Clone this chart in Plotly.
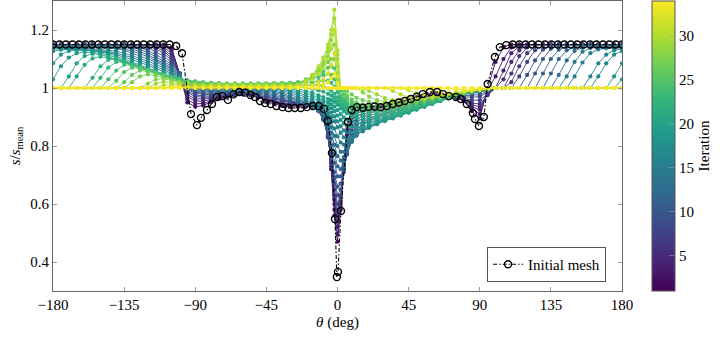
import plotly.graph_objects as go
from plotly.colors import sample_colorscale

# ---------------- data ----------------
THETA = [-180, -175, -170, -165, -160, -155, -150, -145, -140, -135, -130, -125, -120, -115, -110, -105,
         -100, -95, -90, -85, -80, -75, -70, -65, -60, -55, -50, -45, -40, -35, -30, -25,
         -20, -16, -12, -9, -6, -4, -2, 0, 2, 4, 6, 9, 12, 16, 20,
         25, 30, 35, 40, 45, 50, 55, 60, 65, 70, 75, 80, 85, 90, 95,
         100, 105, 110, 115, 120, 125, 130, 135, 140, 145, 150, 155, 160, 165, 170, 175, 180]

S_IT02 = [1.15, 1.15, 1.15, 1.15, 1.15, 1.15, 1.15, 1.15, 1.15, 1.15, 1.15, 1.15, 1.15, 1.15, 1.15, 1.14,
          1.05, 0.95, 0.935, 0.94, 0.95, 0.962, 0.968, 0.975, 0.98, 0.977, 0.968, 0.955, 0.945, 0.938, 0.935, 0.935,
          0.935, 0.938, 0.937, 0.93, 0.85, 0.72, 0.56, 0.47, 0.58, 0.75, 0.87, 0.915, 0.93, 0.932, 0.935,
          0.938, 0.942, 0.947, 0.952, 0.958, 0.968, 0.977, 0.983, 0.982, 0.975, 0.968, 0.955, 0.92, 0.895, 1.0,
          1.09, 1.14, 1.15, 1.15, 1.15, 1.15, 1.15, 1.15, 1.15, 1.15, 1.15, 1.15, 1.15, 1.15, 1.15, 1.15, 1.15]
S_IT03 = [1.15, 1.15, 1.15, 1.15, 1.15, 1.15, 1.15, 1.15, 1.15, 1.15, 1.15, 1.15, 1.15, 1.15, 1.148, 1.135,
          1.05, 0.96, 0.945, 0.947, 0.955, 0.965, 0.97, 0.975, 0.979, 0.976, 0.968, 0.957, 0.948, 0.942, 0.939, 0.938,
          0.938, 0.94, 0.938, 0.925, 0.845, 0.73, 0.58, 0.495, 0.59, 0.745, 0.855, 0.908, 0.925, 0.931, 0.935,
          0.939, 0.943, 0.947, 0.952, 0.958, 0.967, 0.975, 0.98, 0.98, 0.974, 0.967, 0.956, 0.928, 0.91, 0.993,
          1.04, 1.1, 1.14, 1.15, 1.15, 1.15, 1.15, 1.15, 1.15, 1.15, 1.15, 1.15, 1.15, 1.15, 1.15, 1.15, 1.15]
S_IT04 = [1.15, 1.15, 1.15, 1.15, 1.15, 1.15, 1.15, 1.15, 1.15, 1.15, 1.15, 1.15, 1.15, 1.15, 1.145, 1.13,
          1.05, 0.97, 0.955, 0.955, 0.96, 0.967, 0.972, 0.976, 0.978, 0.975, 0.968, 0.96, 0.952, 0.946, 0.943, 0.942,
          0.942, 0.943, 0.94, 0.92, 0.84, 0.74, 0.6, 0.52, 0.6, 0.74, 0.84, 0.9, 0.92, 0.93, 0.935,
          0.94, 0.944, 0.948, 0.953, 0.958, 0.966, 0.973, 0.977, 0.977, 0.973, 0.967, 0.957, 0.935, 0.925, 0.985,
          1.0, 1.06, 1.12, 1.145, 1.15, 1.15, 1.15, 1.15, 1.15, 1.15, 1.15, 1.15, 1.15, 1.15, 1.15, 1.15, 1.15]
S_IT05 = [1.15, 1.15, 1.15, 1.15, 1.15, 1.15, 1.15, 1.15, 1.15, 1.15, 1.15, 1.15, 1.15, 1.148, 1.14, 1.12,
          1.05, 0.978, 0.962, 0.962, 0.964, 0.97, 0.974, 0.977, 0.979, 0.976, 0.969, 0.962, 0.954, 0.948, 0.945, 0.944,
          0.943, 0.942, 0.935, 0.913, 0.835, 0.745, 0.615, 0.54, 0.61, 0.735, 0.825, 0.885, 0.91, 0.923, 0.93,
          0.936, 0.941, 0.946, 0.952, 0.957, 0.965, 0.971, 0.975, 0.976, 0.973, 0.968, 0.958, 0.942, 0.935, 0.98,
          1.0, 1.03, 1.09, 1.13, 1.148, 1.15, 1.15, 1.15, 1.15, 1.15, 1.15, 1.15, 1.15, 1.15, 1.15, 1.15, 1.15]
S_IT06 = [1.15, 1.15, 1.15, 1.15, 1.15, 1.15, 1.15, 1.15, 1.15, 1.15, 1.15, 1.15, 1.15, 1.145, 1.135, 1.11,
          1.05, 0.985, 0.97, 0.968, 0.968, 0.972, 0.975, 0.978, 0.979, 0.976, 0.97, 0.963, 0.956, 0.95, 0.947, 0.945,
          0.943, 0.94, 0.93, 0.905, 0.83, 0.75, 0.63, 0.56, 0.62, 0.73, 0.81, 0.87, 0.9, 0.915, 0.925,
          0.932, 0.938, 0.944, 0.95, 0.956, 0.963, 0.969, 0.973, 0.974, 0.972, 0.968, 0.96, 0.948, 0.945, 0.975,
          1.0, 1.0, 1.05, 1.11, 1.14, 1.15, 1.15, 1.15, 1.15, 1.15, 1.15, 1.15, 1.15, 1.15, 1.15, 1.15, 1.15]
S_IT07 = [1.15, 1.15, 1.15, 1.15, 1.15, 1.15, 1.15, 1.15, 1.15, 1.15, 1.15, 1.15, 1.148, 1.14, 1.128, 1.102,
          1.05, 0.99, 0.976, 0.973, 0.972, 0.975, 0.978, 0.98, 0.98, 0.978, 0.973, 0.967, 0.96, 0.954, 0.95, 0.947,
          0.944, 0.939, 0.928, 0.9, 0.83, 0.755, 0.65, 0.58, 0.625, 0.72, 0.795, 0.855, 0.888, 0.908, 0.918,
          0.927, 0.934, 0.94, 0.947, 0.953, 0.96, 0.966, 0.97, 0.972, 0.972, 0.97, 0.965, 0.958, 0.958, 0.98,
          1.0, 1.0, 1.02, 1.075, 1.12, 1.143, 1.15, 1.15, 1.15, 1.15, 1.15, 1.15, 1.15, 1.15, 1.15, 1.15, 1.15]
S_IT08 = [1.15, 1.15, 1.15, 1.15, 1.15, 1.15, 1.15, 1.15, 1.15, 1.15, 1.15, 1.148, 1.145, 1.135, 1.12, 1.095,
          1.05, 0.995, 0.982, 0.978, 0.977, 0.978, 0.98, 0.981, 0.981, 0.979, 0.975, 0.97, 0.963, 0.957, 0.952, 0.948,
          0.944, 0.938, 0.925, 0.895, 0.83, 0.76, 0.67, 0.6, 0.63, 0.71, 0.78, 0.84, 0.875, 0.9, 0.912,
          0.922, 0.93, 0.937, 0.944, 0.95, 0.956, 0.962, 0.967, 0.97, 0.972, 0.972, 0.97, 0.968, 0.97, 0.985,
          1.0, 1.0, 1.0, 1.04, 1.09, 1.13, 1.145, 1.15, 1.15, 1.15, 1.15, 1.15, 1.15, 1.15, 1.15, 1.15, 1.15]
S_IT09 = [1.149, 1.149, 1.149, 1.149, 1.149, 1.149, 1.149, 1.149, 1.149, 1.149, 1.148, 1.146, 1.14, 1.125, 1.11, 1.088,
          1.05, 0.998, 0.986, 0.982, 0.981, 0.982, 0.983, 0.984, 0.984, 0.983, 0.979, 0.974, 0.966, 0.96, 0.953, 0.949,
          0.944, 0.937, 0.922, 0.892, 0.835, 0.77, 0.69, 0.63, 0.65, 0.715, 0.775, 0.83, 0.865, 0.89, 0.903,
          0.914, 0.923, 0.931, 0.939, 0.946, 0.952, 0.959, 0.964, 0.968, 0.971, 0.973, 0.973, 0.974, 0.977, 0.989,
          1.0, 1.0, 1.0, 1.0, 1.045, 1.095, 1.132, 1.146, 1.149, 1.149, 1.149, 1.149, 1.149, 1.149, 1.149, 1.149, 1.149]
S_IT10 = [1.148, 1.148, 1.148, 1.148, 1.148, 1.148, 1.148, 1.148, 1.148, 1.148, 1.145, 1.14, 1.13, 1.115, 1.1, 1.08,
          1.05, 1.0, 0.99, 0.986, 0.985, 0.985, 0.986, 0.987, 0.987, 0.986, 0.983, 0.978, 0.97, 0.962, 0.955, 0.95,
          0.944, 0.936, 0.92, 0.89, 0.84, 0.78, 0.71, 0.66, 0.67, 0.72, 0.77, 0.82, 0.855, 0.88, 0.895,
          0.907, 0.917, 0.926, 0.934, 0.942, 0.949, 0.956, 0.962, 0.967, 0.971, 0.974, 0.977, 0.98, 0.985, 0.993,
          1.0, 1.0, 1.0, 1.0, 1.0, 1.05, 1.1, 1.135, 1.145, 1.148, 1.148, 1.148, 1.148, 1.148, 1.148, 1.148, 1.148]
S_IT11 = [1.147, 1.147, 1.147, 1.147, 1.147, 1.147, 1.147, 1.147, 1.147, 1.144, 1.14, 1.133, 1.122, 1.108, 1.092, 1.075,
          1.048, 1.003, 0.994, 0.99, 0.988, 0.988, 0.988, 0.989, 0.99, 0.989, 0.986, 0.982, 0.975, 0.967, 0.959, 0.952,
          0.945, 0.936, 0.921, 0.895, 0.852, 0.8, 0.742, 0.695, 0.695, 0.732, 0.775, 0.818, 0.85, 0.875, 0.89,
          0.902, 0.912, 0.922, 0.93, 0.939, 0.946, 0.954, 0.96, 0.966, 0.971, 0.975, 0.979, 0.983, 0.988, 0.994,
          1.0, 1.0, 1.0, 1.0, 1.0, 1.0, 1.05, 1.1, 1.132, 1.143, 1.147, 1.147, 1.147, 1.147, 1.147, 1.147, 1.147]
S_IT12 = [1.145, 1.145, 1.145, 1.145, 1.145, 1.145, 1.145, 1.145, 1.145, 1.14, 1.135, 1.125, 1.115, 1.1, 1.085, 1.07,
          1.045, 1.005, 0.997, 0.993, 0.991, 0.99, 0.99, 0.991, 0.992, 0.991, 0.989, 0.986, 0.98, 0.972, 0.963, 0.955,
          0.947, 0.937, 0.922, 0.9, 0.865, 0.825, 0.775, 0.73, 0.72, 0.745, 0.78, 0.815, 0.845, 0.87, 0.885,
          0.898, 0.908, 0.918, 0.927, 0.936, 0.944, 0.952, 0.959, 0.965, 0.971, 0.976, 0.981, 0.986, 0.99, 0.995,
          1.0, 1.0, 1.0, 1.0, 1.0, 1.0, 1.0, 1.05, 1.1, 1.13, 1.14, 1.145, 1.145, 1.145, 1.145, 1.145, 1.145]
S_IT13 = [1.143, 1.143, 1.143, 1.143, 1.143, 1.143, 1.143, 1.143, 1.14, 1.135, 1.128, 1.118, 1.108, 1.095, 1.08, 1.065,
          1.043, 1.008, 1.0, 0.996, 0.994, 0.993, 0.993, 0.994, 0.994, 0.994, 0.992, 0.99, 0.985, 0.977, 0.968, 0.958,
          0.95, 0.94, 0.925, 0.906, 0.878, 0.845, 0.805, 0.765, 0.75, 0.762, 0.788, 0.815, 0.84, 0.862, 0.878,
          0.891, 0.902, 0.912, 0.922, 0.932, 0.941, 0.95, 0.957, 0.964, 0.97, 0.976, 0.981, 0.986, 0.99, 0.995,
          1.0, 1.0, 1.0, 1.0, 1.0, 1.0, 1.0, 1.0, 1.045, 1.095, 1.128, 1.139, 1.143, 1.143, 1.143, 1.143, 1.143]
S_IT14 = [1.14, 1.14, 1.14, 1.14, 1.14, 1.14, 1.14, 1.14, 1.135, 1.13, 1.12, 1.11, 1.1, 1.09, 1.075, 1.06,
          1.04, 1.01, 1.003, 0.999, 0.997, 0.996, 0.996, 0.996, 0.996, 0.996, 0.995, 0.993, 0.989, 0.982, 0.972, 0.962,
          0.952, 0.942, 0.928, 0.912, 0.89, 0.865, 0.835, 0.8, 0.78, 0.78, 0.795, 0.815, 0.835, 0.855, 0.87,
          0.884, 0.896, 0.907, 0.918, 0.928, 0.938, 0.947, 0.955, 0.963, 0.97, 0.976, 0.982, 0.987, 0.991, 0.995,
          1.0, 1.0, 1.0, 1.0, 1.0, 1.0, 1.0, 1.0, 1.0, 1.04, 1.09, 1.125, 1.138, 1.14, 1.14, 1.14, 1.14]
S_IT15 = [1.138, 1.138, 1.138, 1.138, 1.137, 1.135, 1.133, 1.13, 1.127, 1.12, 1.112, 1.102, 1.092, 1.082, 1.069, 1.055,
          1.038, 1.013, 1.006, 1.002, 1.0, 0.999, 0.998, 0.998, 0.998, 0.998, 0.998, 0.996, 0.993, 0.987, 0.978, 0.967,
          0.957, 0.946, 0.933, 0.92, 0.902, 0.883, 0.86, 0.833, 0.812, 0.805, 0.81, 0.822, 0.838, 0.852, 0.866,
          0.88, 0.892, 0.904, 0.915, 0.925, 0.935, 0.945, 0.953, 0.961, 0.969, 0.976, 0.982, 0.987, 0.991, 0.995,
          1.0, 1.0, 1.0, 1.0, 1.0, 1.0, 1.0, 1.0, 1.0, 1.0, 1.04, 1.088, 1.12, 1.133, 1.137, 1.138, 1.138]
S_IT16 = [1.135, 1.135, 1.135, 1.135, 1.133, 1.13, 1.128, 1.125, 1.12, 1.113, 1.105, 1.095, 1.085, 1.075, 1.063, 1.05,
          1.035, 1.015, 1.008, 1.004, 1.002, 1.001, 1.0, 1.0, 1.0, 1.0, 1.0, 0.999, 0.997, 0.992, 0.984, 0.973,
          0.962, 0.951, 0.938, 0.927, 0.913, 0.9, 0.885, 0.865, 0.845, 0.83, 0.825, 0.83, 0.84, 0.85, 0.862,
          0.875, 0.888, 0.9, 0.911, 0.922, 0.932, 0.942, 0.951, 0.96, 0.968, 0.975, 0.982, 0.987, 0.992, 0.996,
          1.0, 1.0, 1.0, 1.0, 1.0, 1.0, 1.0, 1.0, 1.0, 1.0, 1.0, 1.0, 1.04, 1.085, 1.115, 1.13, 1.135]
S_IT17 = [1.127, 1.132, 1.133, 1.133, 1.132, 1.13, 1.127, 1.122, 1.115, 1.107, 1.098, 1.088, 1.078, 1.068, 1.057, 1.045,
          1.033, 1.017, 1.01, 1.006, 1.004, 1.003, 1.002, 1.002, 1.002, 1.002, 1.002, 1.002, 1.0, 0.996, 0.989, 0.979,
          0.968, 0.958, 0.947, 0.937, 0.925, 0.915, 0.902, 0.885, 0.868, 0.854, 0.847, 0.847, 0.852, 0.858, 0.866,
          0.876, 0.887, 0.897, 0.908, 0.918, 0.928, 0.938, 0.948, 0.957, 0.966, 0.973, 0.981, 0.986, 0.992, 0.996,
          1.0, 1.0, 1.0, 1.0, 1.0, 1.0, 1.0, 1.0, 1.0, 1.0, 1.0, 1.0, 1.0, 1.04, 1.085, 1.115, 1.127]
S_IT18 = [1.085, 1.115, 1.128, 1.13, 1.13, 1.128, 1.125, 1.12, 1.11, 1.1, 1.09, 1.08, 1.07, 1.06, 1.05, 1.04,
          1.03, 1.018, 1.012, 1.008, 1.006, 1.005, 1.004, 1.004, 1.004, 1.004, 1.004, 1.004, 1.003, 1.0, 0.994, 0.985,
          0.975, 0.966, 0.956, 0.948, 0.938, 0.93, 0.92, 0.905, 0.89, 0.878, 0.87, 0.865, 0.864, 0.866, 0.87,
          0.878, 0.886, 0.895, 0.905, 0.915, 0.925, 0.935, 0.945, 0.955, 0.964, 0.972, 0.98, 0.986, 0.992, 0.996,
          1.0, 1.0, 1.0, 1.0, 1.0, 1.0, 1.0, 1.0, 1.0, 1.0, 1.0, 1.0, 1.0, 1.0, 1.0, 1.04, 1.085]
S_IT19 = [1.03, 1.075, 1.105, 1.12, 1.124, 1.123, 1.12, 1.114, 1.104, 1.094, 1.084, 1.074, 1.064, 1.055, 1.046, 1.038,
          1.028, 1.019, 1.014, 1.01, 1.008, 1.007, 1.006, 1.006, 1.006, 1.006, 1.006, 1.006, 1.006, 1.004, 0.999, 0.992,
          0.983, 0.975, 0.966, 0.958, 0.95, 0.944, 0.936, 0.924, 0.91, 0.899, 0.891, 0.884, 0.88, 0.878, 0.879,
          0.884, 0.89, 0.897, 0.906, 0.916, 0.926, 0.936, 0.946, 0.955, 0.964, 0.972, 0.98, 0.986, 0.991, 0.995,
          1.0, 1.0, 1.0, 1.0, 1.0, 1.0, 1.0, 1.0, 1.0, 1.0, 1.0, 1.0, 1.0, 1.0, 1.0, 1.0, 1.03]
S_IT20 = [1.0, 1.0, 1.04, 1.085, 1.11, 1.118, 1.115, 1.108, 1.098, 1.088, 1.078, 1.068, 1.058, 1.05, 1.042, 1.035,
          1.027, 1.02, 1.016, 1.013, 1.011, 1.01, 1.009, 1.008, 1.008, 1.008, 1.008, 1.008, 1.008, 1.007, 1.004, 0.998,
          0.99, 0.983, 0.975, 0.969, 0.962, 0.958, 0.952, 0.942, 0.93, 0.92, 0.912, 0.902, 0.895, 0.89, 0.889,
          0.89, 0.894, 0.9, 0.908, 0.917, 0.927, 0.937, 0.947, 0.956, 0.965, 0.973, 0.98, 0.986, 0.991, 0.995,
          1.0, 1.0, 1.0, 1.0, 1.0, 1.0, 1.0, 1.0, 1.0, 1.0, 1.0, 1.0, 1.0, 1.0, 1.0, 1.0, 1.0]
S_IT21 = [1.0, 1.0, 1.0, 1.04, 1.08, 1.102, 1.108, 1.104, 1.097, 1.089, 1.08, 1.07, 1.06, 1.051, 1.043, 1.036,
          1.028, 1.022, 1.018, 1.015, 1.013, 1.012, 1.011, 1.01, 1.01, 1.01, 1.01, 1.01, 1.01, 1.01, 1.008, 1.005,
          1.001, 0.997, 0.992, 0.987, 0.98, 0.974, 0.966, 0.955, 0.942, 0.932, 0.924, 0.915, 0.908, 0.902, 0.899,
          0.899, 0.901, 0.906, 0.912, 0.92, 0.93, 0.938, 0.948, 0.956, 0.965, 0.973, 0.98, 0.986, 0.991, 0.995,
          1.0, 1.0, 1.0, 1.0, 1.0, 1.0, 1.0, 1.0, 1.0, 1.0, 1.0, 1.0, 1.0, 1.0, 1.0, 1.0, 1.0]
S_IT22 = [1.0, 1.0, 1.0, 1.0, 1.0, 1.035, 1.075, 1.097, 1.1, 1.092, 1.082, 1.072, 1.062, 1.053, 1.045, 1.038,
          1.03, 1.024, 1.02, 1.017, 1.015, 1.014, 1.013, 1.012, 1.012, 1.012, 1.012, 1.012, 1.012, 1.012, 1.012, 1.012,
          1.012, 1.012, 1.01, 1.006, 0.998, 0.99, 0.98, 0.968, 0.955, 0.945, 0.937, 0.928, 0.92, 0.914, 0.91,
          0.908, 0.909, 0.912, 0.917, 0.924, 0.932, 0.94, 0.949, 0.957, 0.965, 0.973, 0.98, 0.986, 0.991, 0.995,
          1.0, 1.0, 1.0, 1.0, 1.0, 1.0, 1.0, 1.0, 1.0, 1.0, 1.0, 1.0, 1.0, 1.0, 1.0, 1.0, 1.0]
S_IT23 = [1.0, 1.0, 1.0, 1.0, 1.0, 1.0, 1.035, 1.07, 1.09, 1.088, 1.08, 1.071, 1.062, 1.053, 1.045, 1.038,
          1.031, 1.025, 1.021, 1.018, 1.016, 1.015, 1.014, 1.013, 1.013, 1.013, 1.013, 1.013, 1.014, 1.014, 1.015, 1.016,
          1.018, 1.021, 1.024, 1.026, 1.025, 1.018, 1.005, 0.985, 0.965, 0.953, 0.944, 0.935, 0.928, 0.922, 0.918,
          0.916, 0.917, 0.92, 0.924, 0.93, 0.937, 0.944, 0.952, 0.96, 0.967, 0.975, 0.981, 0.987, 0.991, 0.995,
          1.0, 1.0, 1.0, 1.0, 1.0, 1.0, 1.0, 1.0, 1.0, 1.0, 1.0, 1.0, 1.0, 1.0, 1.0, 1.0, 1.0]
S_IT24 = [1.0, 1.0, 1.0, 1.0, 1.0, 1.0, 1.0, 1.03, 1.06, 1.08, 1.078, 1.07, 1.062, 1.054, 1.046, 1.038,
          1.032, 1.027, 1.023, 1.02, 1.018, 1.016, 1.015, 1.015, 1.015, 1.015, 1.015, 1.015, 1.016, 1.017, 1.018, 1.02,
          1.025, 1.03, 1.038, 1.045, 1.05, 1.045, 1.03, 1.0, 0.975, 0.962, 0.952, 0.943, 0.936, 0.93, 0.927,
          0.925, 0.925, 0.927, 0.931, 0.936, 0.942, 0.949, 0.956, 0.963, 0.97, 0.977, 0.983, 0.988, 0.992, 0.996,
          1.0, 1.0, 1.0, 1.0, 1.0, 1.0, 1.0, 1.0, 1.0, 1.0, 1.0, 1.0, 1.0, 1.0, 1.0, 1.0, 1.0]
S_IT25 = [1.0, 1.0, 1.0, 1.0, 1.0, 1.0, 1.0, 1.0, 1.025, 1.055, 1.07, 1.068, 1.06, 1.052, 1.043, 1.034,
          1.027, 1.023, 1.02, 1.018, 1.017, 1.016, 1.015, 1.015, 1.015, 1.015, 1.015, 1.015, 1.015, 1.016, 1.017, 1.018,
          1.027, 1.035, 1.046, 1.057, 1.07, 1.075, 1.068, 1.03, 0.99, 0.976, 0.963, 0.951, 0.943, 0.937, 0.933,
          0.931, 0.931, 0.933, 0.937, 0.941, 0.947, 0.953, 0.96, 0.966, 0.973, 0.979, 0.984, 0.989, 0.993, 0.996,
          1.0, 1.0, 1.0, 1.0, 1.0, 1.0, 1.0, 1.0, 1.0, 1.0, 1.0, 1.0, 1.0, 1.0, 1.0, 1.0, 1.0]
S_IT26 = [1.0, 1.0, 1.0, 1.0, 1.0, 1.0, 1.0, 1.0, 1.0, 1.02, 1.045, 1.06, 1.058, 1.05, 1.04, 1.03,
          1.022, 1.02, 1.018, 1.017, 1.016, 1.015, 1.015, 1.015, 1.015, 1.015, 1.015, 1.015, 1.015, 1.015, 1.015, 1.015,
          1.03, 1.04, 1.055, 1.07, 1.09, 1.1, 1.1, 1.05, 1.0, 0.99, 0.975, 0.96, 0.95, 0.943, 0.94,
          0.938, 0.938, 0.94, 0.943, 0.947, 0.952, 0.958, 0.964, 0.97, 0.976, 0.981, 0.986, 0.99, 0.994, 0.997,
          1.0, 1.0, 1.0, 1.0, 1.0, 1.0, 1.0, 1.0, 1.0, 1.0, 1.0, 1.0, 1.0, 1.0, 1.0, 1.0, 1.0]
S_IT27 = [1.0, 1.0, 1.0, 1.0, 1.0, 1.0, 1.0, 1.0, 1.0, 1.0, 1.02, 1.04, 1.047, 1.043, 1.035, 1.027,
          1.021, 1.018, 1.016, 1.015, 1.014, 1.013, 1.013, 1.013, 1.013, 1.013, 1.013, 1.013, 1.013, 1.013, 1.013, 1.013,
          1.028, 1.04, 1.058, 1.078, 1.108, 1.135, 1.15, 1.075, 1.0, 0.998, 0.99, 0.978, 0.966, 0.958, 0.952,
          0.948, 0.945, 0.945, 0.947, 0.95, 0.955, 0.96, 0.966, 0.971, 0.977, 0.982, 0.986, 0.99, 0.994, 0.997,
          1.0, 1.0, 1.0, 1.0, 1.0, 1.0, 1.0, 1.0, 1.0, 1.0, 1.0, 1.0, 1.0, 1.0, 1.0, 1.0, 1.0]
S_IT28 = [1.0, 1.0, 1.0, 1.0, 1.0, 1.0, 1.0, 1.0, 1.0, 1.0, 1.0, 1.0, 1.015, 1.03, 1.032, 1.025,
          1.02, 1.016, 1.014, 1.012, 1.012, 1.012, 1.012, 1.012, 1.012, 1.012, 1.012, 1.012, 1.012, 1.012, 1.012, 1.012,
          1.025, 1.04, 1.06, 1.085, 1.125, 1.165, 1.2, 1.1, 1.0, 1.0, 1.0, 1.0, 1.0, 0.985, 0.97,
          0.958, 0.952, 0.95, 0.951, 0.954, 0.958, 0.963, 0.968, 0.973, 0.978, 0.983, 0.987, 0.991, 0.994, 0.997,
          1.0, 1.0, 1.0, 1.0, 1.0, 1.0, 1.0, 1.0, 1.0, 1.0, 1.0, 1.0, 1.0, 1.0, 1.0, 1.0, 1.0]
S_IT29 = [1.0, 1.0, 1.0, 1.0, 1.0, 1.0, 1.0, 1.0, 1.0, 1.0, 1.0, 1.0, 1.0, 1.015, 1.022, 1.018,
          1.016, 1.013, 1.011, 1.01, 1.01, 1.01, 1.01, 1.01, 1.01, 1.01, 1.01, 1.01, 1.01, 1.01, 1.01, 1.01,
          1.025, 1.043, 1.068, 1.095, 1.138, 1.185, 1.24, 1.115, 1.0, 1.0, 1.0, 1.0, 1.0, 0.997, 0.99,
          0.978, 0.965, 0.958, 0.958, 0.96, 0.961, 0.964, 0.968, 0.972, 0.977, 0.982, 0.987, 0.991, 0.995, 0.997,
          1.0, 1.0, 1.0, 1.0, 1.0, 1.0, 1.0, 1.0, 1.0, 1.0, 1.0, 1.0, 1.0, 1.0, 1.0, 1.0, 1.0]
S_IT30 = [1.0, 1.0, 1.0, 1.0, 1.0, 1.0, 1.0, 1.0, 1.0, 1.0, 1.0, 1.0, 1.0, 1.0, 1.01, 1.012,
          1.012, 1.01, 1.008, 1.008, 1.008, 1.008, 1.008, 1.008, 1.008, 1.008, 1.008, 1.008, 1.008, 1.008, 1.008, 1.008,
          1.025, 1.045, 1.075, 1.105, 1.15, 1.2, 1.27, 1.13, 1.0, 1.0, 1.0, 1.0, 1.0, 1.0, 1.0,
          1.0, 1.0, 0.99, 0.978, 0.968, 0.964, 0.965, 0.968, 0.972, 0.977, 0.982, 0.987, 0.991, 0.995, 0.998,
          1.0, 1.0, 1.0, 1.0, 1.0, 1.0, 1.0, 1.0, 1.0, 1.0, 1.0, 1.0, 1.0, 1.0, 1.0, 1.0, 1.0]
S_IT31 = [1.0, 1.0, 1.0, 1.0, 1.0, 1.0, 1.0, 1.0, 1.0, 1.0, 1.0, 1.0, 1.0, 1.0, 1.0, 1.006,
          1.007, 1.006, 1.006, 1.006, 1.006, 1.006, 1.006, 1.006, 1.006, 1.006, 1.006, 1.006, 1.006, 1.006, 1.006, 1.006,
          1.015, 1.028, 1.048, 1.068, 1.1, 1.14, 1.2, 1.085, 1.0, 1.0, 1.0, 1.0, 1.0, 1.0, 1.0,
          1.0, 1.0, 1.0, 1.0, 0.992, 0.982, 0.975, 0.974, 0.976, 0.979, 0.983, 0.987, 0.991, 0.995, 0.998,
          1.0, 1.0, 1.0, 1.0, 1.0, 1.0, 1.0, 1.0, 1.0, 1.0, 1.0, 1.0, 1.0, 1.0, 1.0, 1.0, 1.0]
S_IT32 = [1.0, 1.0, 1.0, 1.0, 1.0, 1.0, 1.0, 1.0, 1.0, 1.0, 1.0, 1.0, 1.0, 1.0, 1.0, 1.0,
          1.003, 1.003, 1.003, 1.003, 1.003, 1.003, 1.003, 1.003, 1.003, 1.003, 1.003, 1.003, 1.003, 1.003, 1.003, 1.003,
          1.005, 1.01, 1.02, 1.03, 1.05, 1.08, 1.12, 1.04, 1.0, 1.0, 1.0, 1.0, 1.0, 1.0, 1.0,
          1.0, 1.0, 1.0, 1.0, 1.0, 1.0, 1.0, 0.993, 0.985, 0.982, 0.984, 0.988, 0.992, 0.995, 0.998,
          1.0, 1.0, 1.0, 1.0, 1.0, 1.0, 1.0, 1.0, 1.0, 1.0, 1.0, 1.0, 1.0, 1.0, 1.0, 1.0, 1.0]
S_IT33 = [1.0, 1.0, 1.0, 1.0, 1.0, 1.0, 1.0, 1.0, 1.0, 1.0, 1.0, 1.0, 1.0, 1.0, 1.0, 1.0,
          1.001, 1.001, 1.001, 1.001, 1.001, 1.001, 1.001, 1.001, 1.001, 1.001, 1.001, 1.001, 1.001, 1.001, 1.001, 1.001,
          1.002, 1.004, 1.008, 1.012, 1.02, 1.035, 1.05, 1.015, 1.0, 1.0, 1.0, 1.0, 1.0, 1.0, 1.0,
          1.0, 1.0, 1.0, 1.0, 1.0, 1.0, 1.0, 1.0, 1.0, 1.0, 0.995, 0.993, 0.995, 0.997, 0.999,
          1.0, 1.0, 1.0, 1.0, 1.0, 1.0, 1.0, 1.0, 1.0, 1.0, 1.0, 1.0, 1.0, 1.0, 1.0, 1.0, 1.0]
S_IT34 = [1.0, 1.0, 1.0, 1.0, 1.0, 1.0, 1.0, 1.0, 1.0, 1.0, 1.0, 1.0, 1.0, 1.0, 1.0, 1.0,
          1.0, 1.0, 1.0, 1.0, 1.0, 1.0, 1.0, 1.0, 1.0, 1.0, 1.0, 1.0, 1.0, 1.0, 1.0, 1.0,
          1.0, 1.0, 1.0, 1.0, 1.0, 1.0, 1.0, 1.0, 1.0, 1.0, 1.0, 1.0, 1.0, 1.0, 1.0,
          1.0, 1.0, 1.0, 1.0, 1.0, 1.0, 1.0, 1.0, 1.0, 1.0, 1.0, 1.0, 1.0, 1.0, 1.0,
          1.0, 1.0, 1.0, 1.0, 1.0, 1.0, 1.0, 1.0, 1.0, 1.0, 1.0, 1.0, 1.0, 1.0, 1.0, 1.0, 1.0]

ITERATIONS = list(range(2, 35))
ITER_SERIES = [S_IT02, S_IT03, S_IT04, S_IT05, S_IT06, S_IT07, S_IT08, S_IT09, S_IT10, S_IT11,
               S_IT12, S_IT13, S_IT14, S_IT15, S_IT16, S_IT17, S_IT18, S_IT19, S_IT20, S_IT21,
               S_IT22, S_IT23, S_IT24, S_IT25, S_IT26, S_IT27, S_IT28, S_IT29, S_IT30, S_IT31,
               S_IT32, S_IT33, S_IT34]

INIT_THETA = [-180, -175.9, -171.8, -167.7, -163.6, -159.5, -155.4, -151.3, -147.2, -143.1, -139, -134.9,
              -130.8, -126.7, -122.6, -118.5, -114.4, -110.3, -106.2, -102.1, -98.4,
              -92.7, -88.9, -86.4, -82.6, -79.4, -76.3, -72.8, -69.3, -65.8, -62.2, -58.5, -55, -52.2, -49,
              -45.8, -42.2, -38.6, -34.8, -31, -27.1, -23.2, -19.4, -15.6, -11.9, -8.6, -6.1, -3.5, -1.6,
              -0.4, 0.3, 2.2,
              6.6, 9.1, 12.3, 16, 19.7, 23.5, 27.3, 31.2, 35, 38.8, 42.6, 46.4, 50.2, 54, 58.5, 63, 66.7,
              70.5, 75, 78, 81.8, 85.6, 87, 89.5, 92.6, 95, 99.6, 102.7,
              106.8, 110.9, 115, 119, 123.1, 127.2, 131.3, 135.3, 139.4, 143.5, 147.6, 151.7, 155.7,
              159.8, 163.9, 168, 172, 176, 180]
INIT_S = [1.15, 1.15, 1.15, 1.15, 1.15, 1.15, 1.15, 1.15, 1.15, 1.15, 1.15, 1.15,
          1.15, 1.15, 1.15, 1.15, 1.15, 1.15, 1.15, 1.145, 1.12,
          0.91, 0.872, 0.897, 0.924, 0.945, 0.969, 0.972, 0.959, 0.978, 0.986, 0.984, 0.976, 0.969, 0.955,
          0.948, 0.945, 0.938, 0.934, 0.931, 0.931, 0.931, 0.934, 0.938, 0.938, 0.928, 0.886, 0.776, 0.548,
          0.348, 0.366, 0.576,
          0.883, 0.924, 0.934, 0.932, 0.935, 0.936, 0.934, 0.938, 0.945, 0.95, 0.955, 0.962, 0.97, 0.979, 0.986, 0.986, 0.979,
          0.972, 0.969, 0.962, 0.945, 0.914, 0.893, 0.869, 0.9, 1.014, 1.107, 1.141,
          1.148, 1.15, 1.15, 1.15, 1.15, 1.15, 1.15, 1.15, 1.15, 1.15, 1.15, 1.15, 1.15,
          1.15, 1.15, 1.15, 1.15, 1.15, 1.15]

X_TICKS = [-180, -135, -90, -45, 0, 45, 90, 135, 180]
X_TICKTEXT = ["\u2212180", "\u2212135", "\u221290", "\u221245", "0", "45", "90", "135", "180"]
Y_TICKS = [0.4, 0.6, 0.8, 1.0, 1.2]
Y_TICKTEXT = ["0.4", "0.6", "0.8", "1", "1.2"]
CBAR_TICKS = [5, 10, 15, 20, 25, 30]
ITER_MIN, ITER_MAX = 1, 34

assert len(ITER_SERIES) == len(ITERATIONS)
for s in ITER_SERIES:
    assert len(s) == len(THETA), len(s)
assert len(INIT_S) == len(INIT_THETA)

# ---------------- figure ----------------
FONT = "Liberation Serif"
FS = 15
fig = go.Figure()

for k, s in zip(ITERATIONS, ITER_SERIES):
    col = sample_colorscale("Viridis", [(k - ITER_MIN) / (ITER_MAX - ITER_MIN)])[0]
    marker = dict(size=4.2, color=[k] * len(s), colorscale="Viridis", cmin=ITER_MIN, cmax=ITER_MAX,
                  line=dict(width=0))
    if k == ITERATIONS[-1]:
        marker.update(showscale=True, colorbar=dict(
            x=1.053, xanchor="left", xref="paper", y=0.5, yanchor="middle",
            len=1.0, lenmode="fraction", thickness=23, xpad=0, ypad=0,
            outlinewidth=1, outlinecolor="#555",
            tickvals=CBAR_TICKS, ticks="inside", ticklen=6, tickcolor="rgba(160,160,160,0.55)",
            tickfont=dict(family=FONT, size=FS, color="black"),
            title=dict(text="Iteration", side="right", font=dict(family=FONT, size=FS, color="black"))))
    fig.add_trace(go.Scatter(x=THETA, y=s, mode="lines+markers",
                             line=dict(color=col, width=0.9), marker=marker,
                             showlegend=False, hoverinfo="skip"))

fig.add_trace(go.Scatter(x=INIT_THETA, y=INIT_S, mode="lines+markers", name="Initial mesh",
                         line=dict(color="black", width=1.1, dash="4px,2px,1.5px,2px"),
                         marker=dict(symbol="circle-open", size=7, color="black", line=dict(width=1.4))))

axis_common = dict(showline=True, linecolor="#666", linewidth=1, mirror="ticks", ticks="inside",
                   ticklen=4, tickcolor="#999", showgrid=False, zeroline=False,
                   tickfont=dict(family=FONT, size=FS, color="black"))

fig.update_layout(
    width=723, height=338,
    margin=dict(l=53, r=101, t=1, b=47),
    paper_bgcolor="white", plot_bgcolor="white",
    font=dict(family=FONT, size=FS, color="black"),
    xaxis=dict(range=[-180, 180], tickvals=X_TICKS, ticktext=X_TICKTEXT,
               title=dict(text="<i>\u03b8</i> (deg)", standoff=4,
                          font=dict(family=FONT, size=FS, color="black")), **axis_common),
    yaxis=dict(range=[0.3, 1.3], tickvals=Y_TICKS, ticktext=Y_TICKTEXT,
               title=dict(text="<i>s</i>/<i>s</i><sub>mean</sub>", standoff=6,
                          font=dict(family=FONT, size=FS, color="black")), **axis_common),
    legend=dict(x=0.972, y=0.031, xanchor="right", yanchor="bottom",
                bgcolor="white", bordercolor="#555", borderwidth=1,
                font=dict(family=FONT, size=FS, color="black"),
                itemwidth=30, tracegroupgap=0),
    showlegend=True,
)

fig.write_html("out.html")
